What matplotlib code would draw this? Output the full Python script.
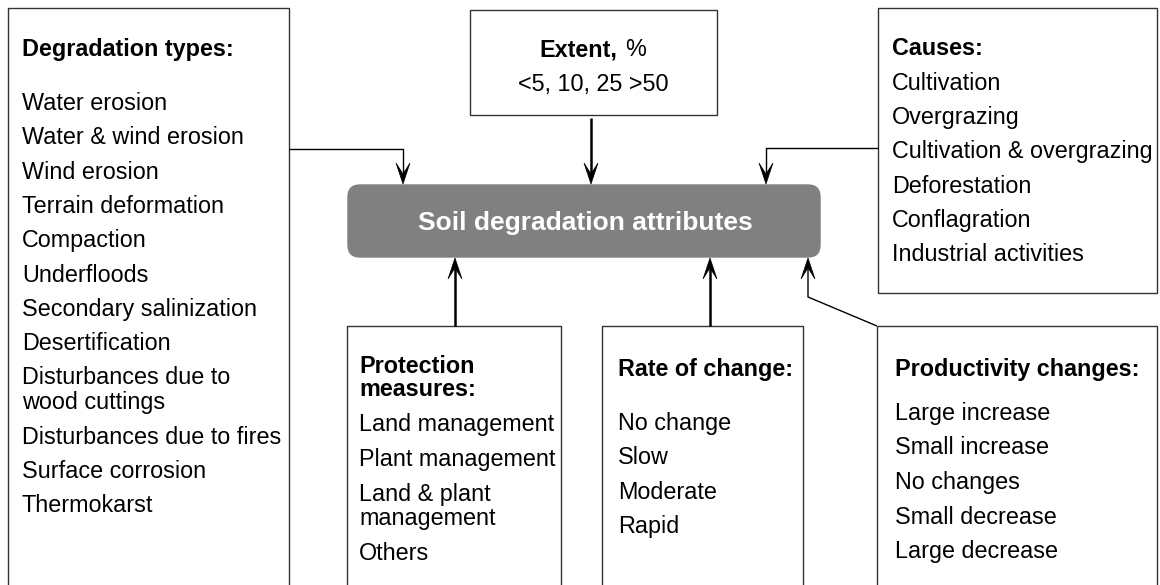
import matplotlib.pyplot as plt
from matplotlib.patches import Rectangle, FancyBboxPatch, Polygon

plt.rcParams['font.family'] = ['Liberation Sans', 'DejaVu Sans']

# ---- diagram texts ----
center_title = "Soil degradation attributes"

degradation_header = ["Degradation types:"]
degradation_types = ["Water erosion", "Water & wind erosion", "Wind erosion",
                     "Terrain deformation", "Compaction", "Underfloods",
                     "Secondary salinization", "Desertification",
                     "Disturbances due to\nwood cuttings",
                     "Disturbances due to fires", "Surface corrosion",
                     "Thermokarst"]

extent_header = "Extent,"
extent_unit = "%"
extent_values = "<5, 10, 25 >50"

causes_header = ["Causes:"]
causes = ["Cultivation", "Overgrazing", "Cultivation & overgrazing",
          "Deforestation", "Conflagration", "Industrial activities"]

protection_header = ["Protection", "measures:"]
protection = ["Land management", "Plant management",
              "Land & plant\nmanagement", "Others"]

rate_header = ["Rate of change:"]
rates = ["No change", "Slow", "Moderate", "Rapid"]

productivity_header = ["Productivity changes:"]
productivity = ["Large increase", "Small increase", "No changes",
                "Small decrease", "Large decrease"]

W, H = 1160, 585
fig = plt.figure(figsize=(W / 100, H / 100), dpi=100)
ax = fig.add_axes([0, 0, 1, 1])
ax.set_xlim(0, W)
ax.set_ylim(H, 0)
ax.axis('off')

EDGE = '#333333'
FS = 16.8


def box(x0, y0, x1, y1):
    ax.add_patch(Rectangle((x0, y0), x1 - x0, y1 - y0, fill=False,
                           edgecolor=EDGE, linewidth=1.0))


def head(x, y, up=False, L=21, hw=7, notch=10):
    # stealth style arrow head, tip at (x, y)
    s = 1 if up else -1
    pts = [(x, y), (x - hw, y + s * L), (x, y + s * notch), (x + hw, y + s * L)]
    ax.add_patch(Polygon(pts, closed=True, facecolor='black',
                         edgecolor='black', linewidth=0.5))


def line(xs, ys, lw=1.0):
    ax.plot(xs, ys, color='black', linewidth=lw, solid_capstyle='butt')


def text_list(x, header, hy, hgap, items, y0, step, wgap):
    for i, h in enumerate(header):
        ax.text(x, hy + i * hgap + 8, h, fontsize=FS, fontweight='bold',
                va='baseline', ha='left')
    y = y0
    for it in items:
        parts = it.split('\n')
        for j, p in enumerate(parts):
            ax.text(x, y + j * wgap + 8, p, fontsize=FS, va='baseline',
                    ha='left')
        y += (len(parts) - 1) * wgap + step


# outer boxes
box(8, 8, 289, 600)
box(470, 10, 717, 115)
box(878, 8, 1157, 293)
box(347, 326, 561, 600)
box(602, 326, 803, 600)
box(877, 326, 1157, 600)

# center box
ax.add_patch(FancyBboxPatch((348, 185), 472, 72,
                            boxstyle='round,pad=0,rounding_size=12',
                            facecolor='#808080', edgecolor='#808080',
                            linewidth=1))
ax.text(585, 221 + 9, center_title, fontsize=19, fontweight='bold',
        color='white', ha='center', va='baseline')

# texts
text_list(22, degradation_header, 48, 0, degradation_types, 102, 34.3, 25)
text_list(892, causes_header, 47, 0, causes, 82, 34.2, 25)
text_list(359, protection_header, 365, 23, protection, 423, 35, 24)
text_list(618, rate_header, 368, 0, rates, 422, 34.3, 25)
text_list(895, productivity_header, 368, 0, productivity, 412, 34.5, 25)

ax.text(617, 48 + 8, extent_header, fontsize=FS, fontweight='bold',
        ha='right', va='baseline')
ax.text(625, 48 + 8, extent_unit, fontsize=FS, ha='left', va='baseline')
ax.text(593, 83 + 8, extent_values, fontsize=FS, ha='center', va='baseline')

# arrows into the top of the center box
line([289, 403, 403], [149, 149, 175])
head(403, 184)
line([591, 591], [118, 175], lw=1.8)
head(591, 184)
line([878, 766, 766], [148, 148, 175])
head(766, 184)

# arrows into the bottom of the center box
line([455, 455], [326, 268], lw=1.8)
head(455, 258, up=True)
line([710, 710], [326, 268], lw=1.8)
head(710, 258, up=True)
line([877, 808, 808], [326, 297, 268])
head(808, 258, up=True)

fig.savefig('out.png', dpi=100, facecolor='white')
